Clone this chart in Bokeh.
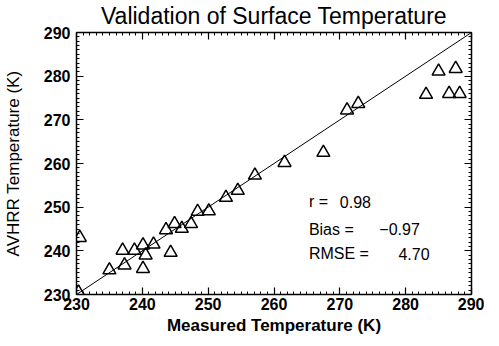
from bokeh.plotting import figure
from bokeh.models import (Range1d, LinearAxis, Slope, Label, FixedTicker, ColumnDataSource,
                          CustomLabelingPolicy)
from bokeh.embed import file_html
from bokeh.resources import INLINE

# ---- data ----
measured = [230.5, 230.3, 235.0, 237.0, 237.3, 238.8, 240.1, 240.5, 240.1, 241.7,
            244.3, 243.6, 244.9, 246.0, 247.4, 248.4, 250.1, 252.7, 254.5, 257.1,
            261.6, 267.5, 271.1, 272.8, 283.1, 285.0, 286.6, 287.6, 288.2]
avhrr = [243.0, 230.5, 235.6, 240.1, 236.7, 240.1, 241.3, 239.0, 235.9, 241.5,
         239.6, 244.8, 246.2, 245.1, 246.2, 249.0, 249.1, 252.2, 253.8, 257.3,
         260.2, 262.5, 272.2, 273.7, 275.8, 281.1, 276.0, 281.7, 276.0]
x_ticks = [230, 240, 250, 260, 270, 280, 290]
y_ticks = [230, 240, 250, 260, 270, 280, 290]
minor_ticks = list(range(230, 291))
stat_names = ["r =", "Bias =", "RMSE ="]
stat_values = ["0.98", "\u22120.97", "4.70"]

FONT = "Liberation Sans"

p = figure(output_backend="svg", toolbar_location=None,
           frame_width=395, frame_height=262,
           min_border_left=75, min_border_right=13, min_border_top=25, min_border_bottom=43,
           x_range=Range1d(230, 290), y_range=Range1d(230, 290),
           x_axis_location=None, y_axis_location=None,
           title="Validation of Surface Temperature")
p.title.align = "center"
p.title.text_font = FONT
p.title.text_font_size = "23px"
p.title.text_font_style = "normal"
p.title.text_color = "black"
p.title.standoff = 0
p.grid.visible = False
p.outline_line_color = None
p.background_fill_color = "white"
p.border_fill_color = "white"

no_labels = CustomLabelingPolicy(code="return new Set()")


def style_axis(ax, ticks, labels=True):
    ax.ticker = FixedTicker(ticks=ticks, minor_ticks=minor_ticks)
    ax.axis_line_color = "black"
    ax.axis_line_width = 1.5
    ax.major_tick_in = 7
    ax.major_tick_out = 0
    ax.minor_tick_in = 3
    ax.minor_tick_out = 0
    ax.major_tick_line_color = "black"
    ax.minor_tick_line_color = "black"
    ax.major_tick_line_width = 1.2
    ax.minor_tick_line_width = 1
    if labels:
        ax.major_label_text_font = FONT
        ax.major_label_text_font_size = "16px"
        ax.major_label_text_font_style = "bold"
        ax.major_label_text_color = "black"
    else:
        ax.major_label_policy = no_labels
        ax.major_label_text_font_size = "1px"
        ax.major_label_standoff = 0
        ax.axis_label = None


xb = LinearAxis(axis_label="Measured Temperature (K)")
style_axis(xb, x_ticks)
xb.major_label_standoff = 3
xb.axis_label_text_font = FONT
xb.axis_label_text_font_size = "17px"
xb.axis_label_text_font_style = "bold"
xb.axis_label_text_color = "black"
xb.axis_label_standoff = 3
p.add_layout(xb, "below")

yl = LinearAxis(axis_label="AVHRR Temperature (K)")
style_axis(yl, y_ticks)
yl.major_label_standoff = 6
yl.axis_label_text_font = FONT
yl.axis_label_text_font_size = "17px"
yl.axis_label_text_font_style = "normal"
yl.axis_label_text_color = "black"
yl.axis_label_standoff = 18
p.add_layout(yl, "left")

xt = LinearAxis()
style_axis(xt, x_ticks, labels=False)
p.add_layout(xt, "above")

yr = LinearAxis()
style_axis(yr, y_ticks, labels=False)
p.add_layout(yr, "right")

# 1:1 line
p.add_layout(Slope(gradient=1, y_intercept=0, line_color="black", line_width=1))

src = ColumnDataSource(dict(x=measured, y=avhrr))
p.scatter("x", "y", source=src, marker="triangle", size=13,
          fill_color=None, line_color="black", line_width=1.5)

# statistics text
name_x = 265.3
value_x = [270.0, 276.0, 278.9]
row_y = [251.2, 245.0, 239.3]
for name, val, vx, ry in zip(stat_names, stat_values, value_x, row_y):
    p.add_layout(Label(x=name_x, y=ry, text=name, text_font=FONT, text_font_size="16px",
                       text_baseline="middle", text_align="left", text_color="black"))
    p.add_layout(Label(x=vx, y=ry, text=val, text_font=FONT, text_font_size="16px",
                       text_baseline="middle", text_align="left", text_color="black"))

open("out.html", "w").write(file_html(p, INLINE))
